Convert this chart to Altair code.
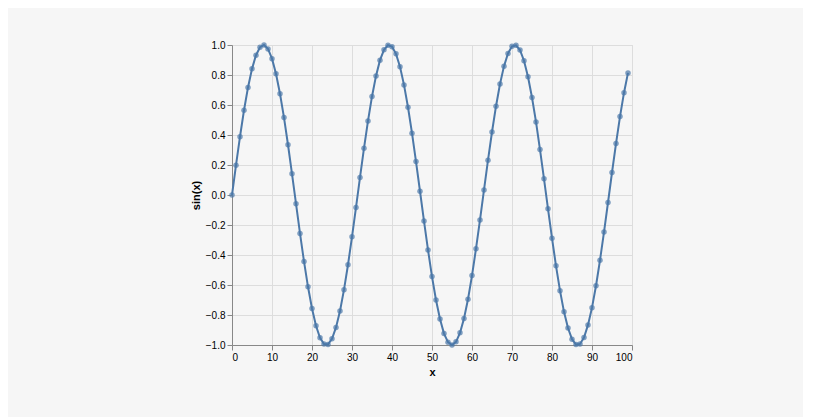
import pandas as pd
import altair as alt

x_values = list(range(100))
sin_values = [
    0.000, 0.199, 0.389, 0.565, 0.717, 0.841, 0.932, 0.985, 1.000, 0.974,
    0.909, 0.808, 0.675, 0.516, 0.335, 0.141, -0.058, -0.256, -0.443, -0.612,
    -0.757, -0.872, -0.952, -0.994, -0.996, -0.959, -0.883, -0.773, -0.631, -0.465,
    -0.279, -0.083, 0.117, 0.312, 0.494, 0.657, 0.794, 0.899, 0.968, 0.999,
    0.989, 0.941, 0.855, 0.734, 0.585, 0.412, 0.223, 0.025, -0.174, -0.366,
    -0.544, -0.700, -0.827, -0.924, -0.981, -1.000, -0.979, -0.919, -0.823, -0.695,
    -0.537, -0.358, -0.166, 0.034, 0.232, 0.420, 0.592, 0.740, 0.859, 0.944,
    0.991, 0.998, 0.966, 0.895, 0.788, 0.650, 0.487, 0.303, 0.108, -0.092,
    -0.288, -0.472, -0.638, -0.779, -0.887, -0.961, -0.997, -0.993, -0.950, -0.866,
    -0.751, -0.605, -0.435, -0.247, -0.050, 0.150, 0.343, 0.523, 0.682, 0.814,
]

source = pd.DataFrame({"x": x_values, "sin(x)": sin_values})

chart = alt.Chart(source).mark_line(
    point=alt.OverlayMarkDef(filled=True, size=30, opacity=0.7),
    strokeWidth=2,
    color="#4c78a8",
).encode(
    x=alt.X("x:Q", scale=alt.Scale(domain=[0, 100])),
    y=alt.Y("sin(x):Q", scale=alt.Scale(domain=[-1, 1])),
).properties(
    width=400,
    height=300,
    padding={"left": 182, "top": 32, "right": 170, "bottom": 40},
    background="#f6f6f6",
).configure_axis(
    labelFont="Liberation Sans",
    titleFont="Liberation Sans",
    labelFontSize=10,
    titleFontSize=11,
    labelColor="#000",
    titleColor="#000",
    gridColor="#ddd",
    domainColor="#888",
    tickColor="#888",
).configure_view(stroke="#ddd")

chart.save("out.html", embed_options={"renderer": "svg", "actions": False})
